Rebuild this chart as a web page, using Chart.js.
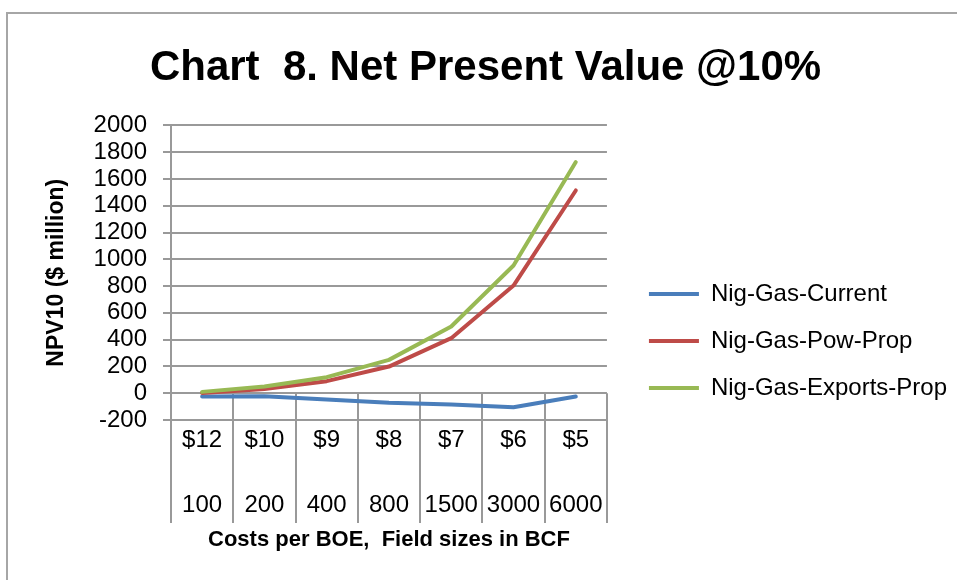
<!DOCTYPE html>
<html>
<head>
<meta charset="utf-8">
<script src="https://cdn.jsdelivr.net/npm/chart.js@4"></script>
<style>
  body { margin: 0; background: #fff; overflow: hidden; }
  #frame { position: absolute; left: 6px; top: 12px; width: 1000px; height: 700px; border: 2px solid #a6a6a6; }
  #wrap { position: absolute; left: 0; top: 0; width: 957px; height: 580px; }
</style>
</head>
<body>
<div id="frame"></div>
<div id="wrap"><canvas id="npvChart"></canvas></div>
<script>
// categories: cost per BOE and field size (BCF)
const costLabels = ['$12', '$10', '$9', '$8', '$7', '$6', '$5'];
const fieldSizes = ['100', '200', '400', '800', '1500', '3000', '6000'];

// NPV10, $ million
const gasCurrent = [-25, -22, -47, -72, -85, -105, -25];
const gasPowProp = [2, 32, 90, 199, 411, 804, 1514];
const gasExportsProp = [10, 50, 120, 249, 498, 954, 1726];

const yMin = -200;
const yMax = 2000;
const yStep = 200;

const gridColor = '#999999';
const fontFamily = '"Liberation Sans", Arial, sans-serif';

// two level labels, blank line in between
const labels = costLabels.map((c, i) => [c, '', fieldSizes[i]]);

// vertical separators under the zero line, like the excel multi level axis
const dividers = {
  id: 'dividers',
  beforeDatasetsDraw(chart) {
    const {ctx, chartArea, scales: {x, y}} = chart;
    const n = costLabels.length;
    const step = chartArea.width / n;
    const top = y.getPixelForValue(0);
    const bottom = x.top + 103;
    ctx.save();
    ctx.strokeStyle = gridColor;
    ctx.lineWidth = 2;
    ctx.beginPath();
    for (let i = 0; i <= n; i++) {
      const px = Math.round(chartArea.left + i * step);
      ctx.moveTo(px, top);
      ctx.lineTo(px, bottom);
    }
    ctx.stroke();
    ctx.restore();
  }
};

const ctx = document.getElementById('npvChart');

new Chart(ctx, {
  type: 'line',
  data: {
    labels: labels,
    datasets: [{
      label: 'Nig-Gas-Current',
      data: gasCurrent,
      borderColor: '#4a7ebb',
      backgroundColor: '#4a7ebb',
      order: 3
    }, {
      label: 'Nig-Gas-Pow-Prop',
      data: gasPowProp,
      borderColor: '#be4b48',
      backgroundColor: '#be4b48',
      order: 2
    }, {
      label: 'Nig-Gas-Exports-Prop',
      data: gasExportsProp,
      borderColor: '#98b954',
      backgroundColor: '#98b954',
      order: 1
    }]
  },
  options: {
    responsive: true,
    maintainAspectRatio: false,
    animation: false,
    layout: { padding: { left: 14, right: 0, top: 0, bottom: 0 } },
    elements: {
      line: { borderWidth: 4, tension: 0, borderJoinStyle: 'round', borderCapStyle: 'round' },
      point: { radius: 0, hoverRadius: 0 }
    },
    plugins: {
      title: {
        display: true,
        text: 'Chart  8. Net Present Value @10%',
        color: '#000',
        font: { family: fontFamily, size: 42, weight: 'bold', lineHeight: 1.2 },
        padding: { top: 43, bottom: 32 }
      },
      legend: {
        position: 'right',
        maxWidth: 340,
        title: {
          display: true,
          text: '',
          font: { size: 12, lineHeight: 1.2 },
          padding: { top: 0, bottom: 87.6 }
        },
        labels: {
          color: '#000',
          font: { family: fontFamily, size: 24 },
          boxWidth: 50,
          boxHeight: 4,
          padding: 23,
          sort: (a, b) => a.datasetIndex - b.datasetIndex,
          generateLabels: (chart) => Chart.defaults.plugins.legend.labels.generateLabels(chart)
            .map(l => ({ ...l, lineWidth: 0 }))
        }
      },
      tooltip: { enabled: false }
    },
    scales: {
      x: {
        offset: true,
        grid: { display: false, drawTicks: false },
        border: { display: false },
        ticks: {
          color: '#000',
          font: { family: fontFamily, size: 24, lineHeight: 1.35 },
          padding: 4,
          autoSkip: false,
          maxRotation: 0,
          minRotation: 0
        },
        title: {
          display: true,
          text: 'Costs per BOE,  Field sizes in BCF',
          color: '#000',
          font: { family: fontFamily, size: 22, weight: 'bold', lineHeight: 1.2 },
          padding: { top: 0, bottom: 27 }
        },
        afterFit: (s) => { s.height = 160; }
      },
      y: {
        min: yMin,
        max: yMax,
        grid: { color: gridColor, lineWidth: 2, tickLength: 8 },
        border: { color: gridColor, width: 2 },
        ticks: {
          stepSize: yStep,
          autoSkip: false,
          color: '#000',
          font: { family: fontFamily, size: 24 },
          padding: 16,
          callback: (v) => String(v)
        },
        title: {
          display: true,
          text: 'NPV10 ($ million)',
          color: '#000',
          font: { family: fontFamily, size: 23, weight: 'bold', lineHeight: 1.2 },
          padding: { top: 29, bottom: 0 }
        },
        afterFit: (s) => { s.width = 157; }
      },
      gap: {
        type: 'linear',
        position: 'right',
        display: true,
        grid: { display: false, drawTicks: false },
        border: { display: false },
        ticks: { display: false },
        afterFit: (s) => { s.width = 19; }
      }
    }
  },
  plugins: [dividers]
});
</script>
</body>
</html>
